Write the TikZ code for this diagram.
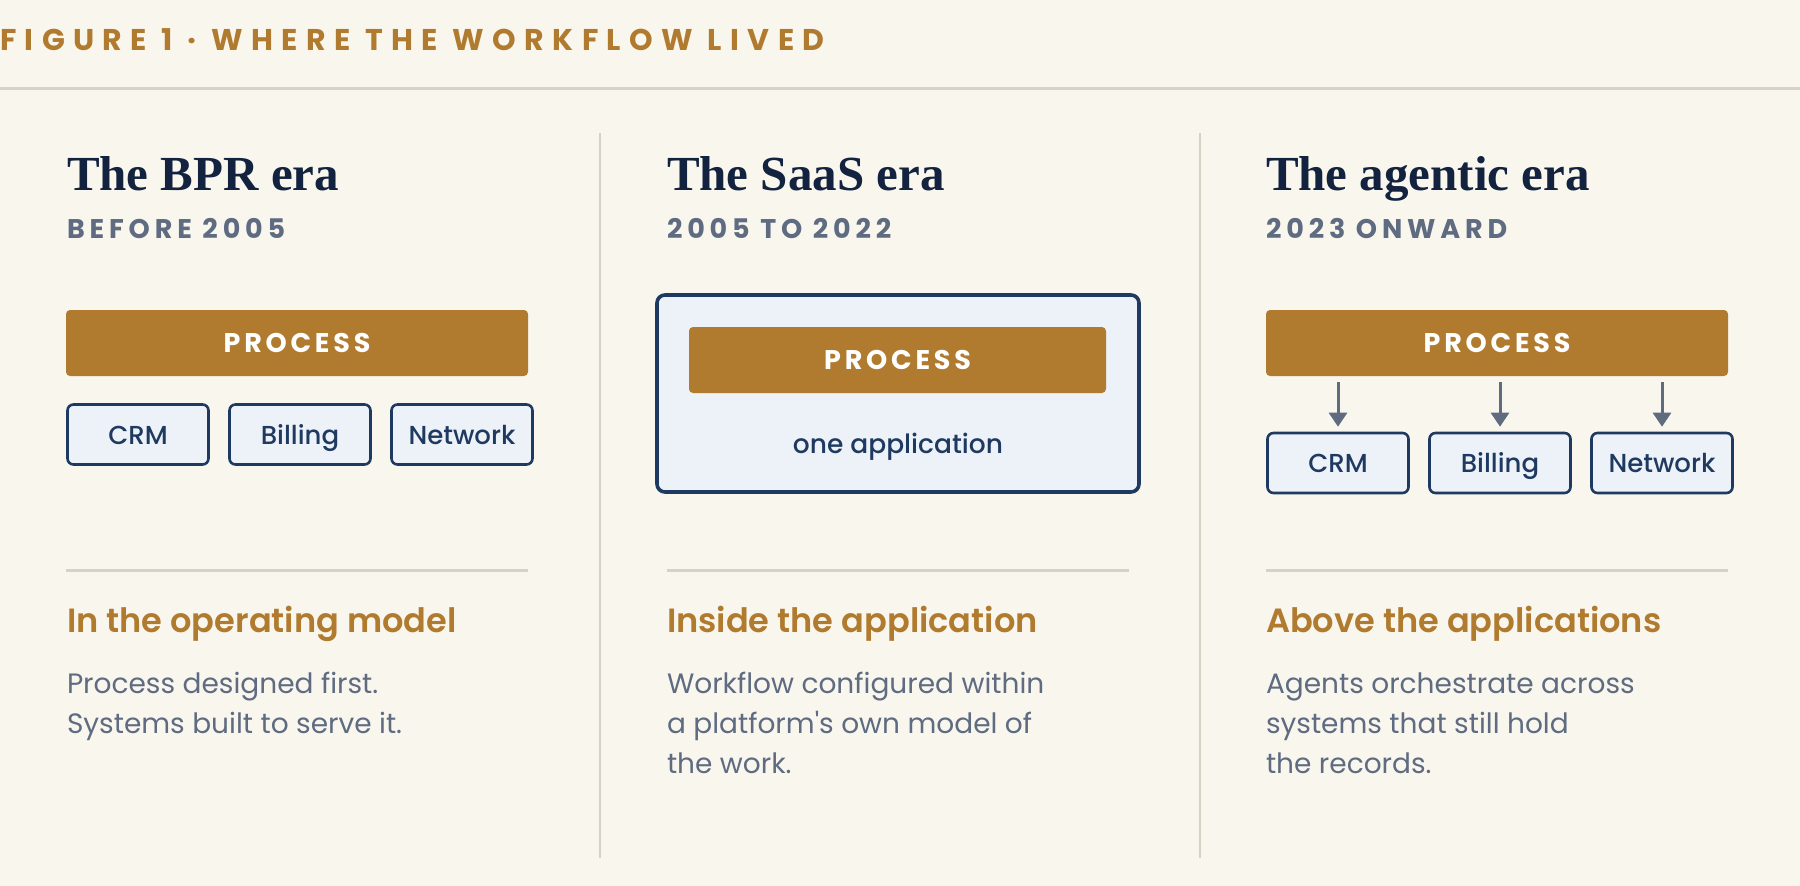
\documentclass[tikz,border=0pt]{standalone}
\usepackage{fontspec}
\setmainfont{Poppins}
\newfontfamily\serifhead{Liberation Serif}
\newfontfamily\pmed{Poppins}[UprightFont=* Medium]
\newfontfamily\psemi{Poppins}[UprightFont=* SemiBold]
\newfontfamily\spacedA[LetterSpace=28]{Poppins}
\newfontfamily\spacedB[LetterSpace=18]{Poppins}
\newfontfamily\spacedC[LetterSpace=14]{Poppins}
\usetikzlibrary{arrows.meta}
\definecolor{bg}{HTML}{F9F6EE}
\definecolor{gold}{HTML}{B07B2F}
\definecolor{navy}{HTML}{13233F}
\definecolor{slate}{HTML}{5E6B80}
\definecolor{boxfill}{HTML}{EDF1F8}
\definecolor{boxline}{HTML}{1F3A60}
\definecolor{rulec}{HTML}{D6D2C4}
\definecolor{arrowc}{HTML}{5F6B7E}
\tikzset{
  lbl/.style={anchor=base west, inner sep=0pt, outer sep=0pt},
  figtitle/.style={lbl, text=gold, font=\spacedA\bfseries\fontsize{30}{30}\selectfont},
  era/.style={lbl, text=navy, font=\serifhead\bfseries\fontsize{49}{49}\selectfont},
  when/.style={lbl, text=slate, font=\spacedB\bfseries\fontsize{27}{27}\selectfont},
  procbar/.style={fill=gold, rounded corners=4pt, draw=none, inner sep=0pt,
    text=white, font=\spacedC\bfseries\fontsize{27}{27}\selectfont},
  sysbox/.style={draw=boxline, line width=2.6pt, fill=boxfill, rounded corners=6pt,
    inner sep=0pt, minimum width=141pt, minimum height=60pt,
    text height=19pt, text depth=0pt,
    text=boxline, font=\pmed\fontsize{26}{26}\selectfont},
  appbox/.style={draw=boxline, line width=3.6pt, fill=boxfill, rounded corners=8pt,
    inner sep=0pt, minimum width=482pt, minimum height=197pt},
  subhead/.style={lbl, text=gold, font=\psemi\fontsize{33.6}{33.6}\selectfont},
  body/.style={lbl, text=slate, font=\fontsize{28}{28}\selectfont},
  hrule/.style={draw=rulec, line width=3pt},
  vrule/.style={draw=rulec, line width=2.5pt},
  arr/.style={draw=arrowc, line width=3pt, -{Triangle[width=18pt,length=14pt]}},
}
\begin{document}
\begin{tikzpicture}[x=1pt,y=-1pt]
\fill[bg] (0,0) rectangle (1800,886);
\useasboundingbox (0,0) rectangle (1800,886);
% title and top rule
\node[figtitle] (title) at (0,50) {FIGURE 1 · WHERE THE WORKFLOW LIVED};
\coordinate (topL) at (0,88);
\coordinate (topR) at (1800,88);
\draw[hrule] (topL) -- (topR);
% dividers
\coordinate (d1t) at (600,133); \coordinate (d1b) at (600,858);
\coordinate (d2t) at (1200,133); \coordinate (d2b) at (1200,858);
\draw[vrule] (d1t) -- (d1b);
\draw[vrule] (d2t) -- (d2b);

% ---------- column 1
\node[era] (h1) at (67,190) {The BPR era};
\node[when] (w1) at (67,238) {BEFORE 2005};
\node[procbar, minimum width=462pt, minimum height=66pt] (p1) at (297,343) {PROCESS};
\node[sysbox] (crm1) at (138,434.5) {CRM};
\node[sysbox] (bil1) at (300,434.5) {Billing};
\node[sysbox] (net1) at (462,434.5) {Network};
\coordinate (r1a) at (66,570); \coordinate (r1b) at (528,570);
\draw[hrule] (r1a) -- (r1b);
\node[subhead] (s1) at (67,632) {In the operating model};
\node[body] (b1a) at (67,693) {Process designed first.};
\node[body] (b1b) at (67,733) {Systems built to serve it.};

% ---------- column 2
\node[era] (h2) at (667,190) {The SaaS era};
\node[when] (w2) at (667,238) {2005 TO 2022};
\node[appbox] (app) at (898,393.5) {};
\node[procbar, minimum width=417pt, minimum height=66pt] (p2) at (897.5,360) {PROCESS};
\node[anchor=base, inner sep=0pt, text=boxline, font=\pmed\fontsize{26.5}{26.5}\selectfont] (one) at (898,453) {one application};
\coordinate (r2a) at (667,570); \coordinate (r2b) at (1129,570);
\draw[hrule] (r2a) -- (r2b);
\node[subhead] (s2) at (667,632) {Inside the application};
\node[body] (b2a) at (667,693) {Workflow configured within};
\node[body] (b2b) at (667,733) {a platform\textquotesingle s own model of};
\node[body] (b2c) at (667,773) {the work.};

% ---------- column 3
\node[era] (h3) at (1266,190) {The agentic era};
\node[when] (w3) at (1266,238) {2023 ONWARD};
\node[procbar, minimum width=462pt, minimum height=66pt] (p3) at (1497,343) {PROCESS};
\node[sysbox] (crm3) at (1338,463) {CRM};
\node[sysbox] (bil3) at (1500,463) {Billing};
\node[sysbox] (net3) at (1662,463) {Network};
\draw[arr] ([yshift=-6pt]p3.south -| crm3.north) -- ([yshift=5pt]crm3.north);
\draw[arr] ([yshift=-6pt]p3.south -| bil3.north) -- ([yshift=5pt]bil3.north);
\draw[arr] ([yshift=-6pt]p3.south -| net3.north) -- ([yshift=5pt]net3.north);
\coordinate (r3a) at (1266,570); \coordinate (r3b) at (1728,570);
\draw[hrule] (r3a) -- (r3b);
\node[subhead] (s3) at (1266,632) {Above the applications};
\node[body] (b3a) at (1266,693) {Agents orchestrate across};
\node[body] (b3b) at (1266,733) {systems that still hold};
\node[body] (b3c) at (1266,773) {the records.};
\end{tikzpicture}
\end{document}
